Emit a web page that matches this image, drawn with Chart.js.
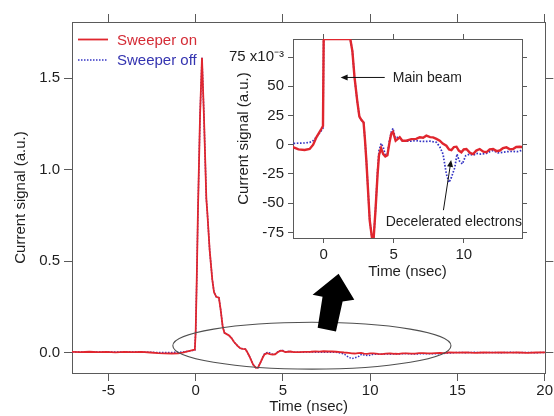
<!DOCTYPE html>
<html><head><meta charset="utf-8">
<script src="https://cdn.jsdelivr.net/npm/chart.js@4"></script>
<style>
html,body{margin:0;padding:0;background:#fff;}
#wrap{position:relative;width:554px;height:416px;overflow:hidden;}
#main{position:absolute;left:0;top:0;width:554px;height:416px;}
#inset{position:absolute;left:225px;top:26px;width:310px;height:260px;}
</style>
</head><body>
<div id="wrap"><canvas id="main" width="554" height="416"></canvas><canvas id="inset" width="310" height="260"></canvas></div>
<script>
// ---------- data (time in nsec, signal in a.u.) ----------
const timeOn = [
 -7.09,-6.6,-6.1,-5.6,-5.1,-4.6,-4.1,-3.6,-3.1,-2.6,
 -2.14,-1.8,-1.36,-1.0,-0.75,-0.52,-0.17,-0.05,0.0,0.06,
 0.13,0.25,0.36,0.47,0.61,0.67,0.8,0.95,1.05,1.18,
 1.33,1.43,1.55,1.65,1.8,1.9,2.05,2.2,2.4,2.55,
 2.7,2.85,2.95,3.05,3.29,3.45,3.57,3.71,3.85,3.95,
 4.1,4.25,4.4,4.55,4.7,4.83,4.95,5.14,5.3,5.43,
 5.62,5.9,6.26,6.6,6.86,7.1,7.33,7.6,7.81,8.05,
 8.29,8.5,8.76,8.95,9.12,9.3,9.48,9.65,9.83,10.0,
 10.19,10.45,10.67,10.9,11.14,11.4,11.62,11.85,12.1,12.35,
 12.57,12.8,13.05,13.3,13.52,13.75,14.0,14.2,14.5,15.0,
 15.5,16.0,16.5,17.0,17.5,18.0,18.5,19.0,19.5,20.04
];
const signalOn = [
 0.004,0.003,0.005,0.003,0.004,0.002,0.004,0.003,0.004,0.001,
 -0.0023,-0.0040,-0.0045,-0.0037,0.0000,0.0063,0.0134,0.0160,0.12,0.40,
 0.78,1.30,1.61,1.30,0.84,0.76,0.56,0.40,0.33,0.305,
 0.30,0.235,0.14,0.108,0.100,0.095,0.080,0.058,0.037,0.024,
 0.021,0.019,0.004,-0.014,-0.065,-0.083,-0.082,-0.054,-0.025,-0.009,
 -0.003,-0.008,-0.010,-0.009,0.002,0.0095,0.011,0.0034,0.0050,0.0063,
 0.0034,0.0034,0.0048,0.0050,0.0063,0.0060,0.0077,0.0065,0.0063,0.0050,
 0.0034,0.0010,-0.0009,-0.0040,-0.0046,-0.0020,-0.0017,-0.0050,-0.0065,-0.0040,
 -0.0037,-0.0070,-0.0080,-0.0050,-0.0037,-0.0060,-0.0065,-0.0040,-0.0037,-0.0055,
 -0.0050,-0.0030,-0.0023,-0.0040,-0.0037,-0.0020,-0.0017,-0.0020,0.001,0.000,
 0.002,-0.001,0.001,0.000,0.002,0.000,0.001,-0.001,0.001,0.002
];
const timeOff = [
 -7.09,-6.6,-6.1,-5.6,-5.1,-4.6,-4.1,-3.6,-3.1,-2.6,
 -2.14,-1.8,-1.36,-1.0,-0.75,-0.52,-0.17,-0.05,0.0,0.06,
 0.13,0.25,0.36,0.47,0.61,0.67,0.8,0.95,1.05,1.18,
 1.33,1.43,1.55,1.65,1.8,1.9,2.05,2.2,2.4,2.55,
 2.7,2.85,2.95,3.05,3.29,3.45,3.57,3.71,3.85,3.95,
 4.1,4.25,4.4,4.55,4.7,4.83,4.95,5.14,5.3,5.43,
 5.62,5.9,6.26,6.6,6.86,7.1,7.33,7.6,7.81,8.05,
 8.3,8.52,8.76,8.95,9.12,9.36,9.52,9.67,9.9,10.14,
 10.43,10.7,10.9,11.2,11.62,11.85,12.1,12.45,12.8,13.1,
 13.5,13.8,14.1,14.5,15.0,15.5,16.0,16.5,17.0,17.5,
 18.0,18.5,19.0,19.5,20.04
];
const signalOff = [
 0.003,0.004,0.003,0.004,0.003,0.004,0.003,0.004,0.003,0.002,
 0.0011,0.0013,0.0015,0.0020,0.0035,0.0065,0.0120,0.0140,0.12,0.40,
 0.78,1.30,1.61,1.30,0.84,0.76,0.56,0.40,0.33,0.305,
 0.30,0.235,0.14,0.108,0.100,0.095,0.080,0.058,0.037,0.024,
 0.021,0.019,0.004,-0.014,-0.065,-0.083,-0.082,-0.054,-0.022,-0.005,
 0.0011,-0.002,-0.009,-0.008,0.004,0.011,0.014,0.004,0.007,0.006,
 0.003,0.003,0.003,0.0035,0.003,0.0028,0.0028,0.003,0.0025,0.002,
 -0.002,-0.008,-0.025,-0.0323,-0.028,-0.0196,-0.008,-0.0136,-0.0165,-0.0094,
 -0.008,-0.009,-0.0074,-0.008,-0.0074,-0.006,-0.005,-0.007,-0.0065,-0.006,
 -0.0057,-0.006,-0.005,-0.002,0.001,0.000,0.002,0.000,0.001,0.000,
 0.002,0.000,0.001,0.000,0.001
];

// ---------- ticks ----------
const mainTimeTicks = [-5, 0, 5, 10, 15, 20];
const mainSignalTicks = [0, 0.5, 1.0, 1.5];
const insetTimeTicks = [0, 5, 10];
const insetSignalTicks = [-0.075, -0.05, -0.025, 0, 0.025, 0.05, 0.075];

// ---------- annotations (data units) ----------
const ellipseCenter = [6.66, 0.038];
const ellipseRadii = [7.97, 0.128];
const bigArrow = [[8.19,0.431],[9.09,0.289],[8.42,0.28],[8.04,0.116],[6.99,0.136],[7.27,0.306],[6.70,0.316]];
const mainBeamArrow = {from:[4.36,0.0575], to:[1.21,0.0575]};
const mainBeamLabel = {text:'Main beam', at:[4.93,0.0572]};
const decelArrow = {from:[8.55,-0.056], to:[9.1,-0.013]};
const decelLabel = {text:'Decelerated electrons', at:[4.43,-0.0665]};

const INSET_MIN = -0.0798, INSET_MAX = 0.0904;

const RED = '#e0262e', BLUE = '#3434c4', AXIS = '#5a5a5a', TXT = '#1e1e1e';
const FONT = "'Liberation Sans', Arial, Helvetica, sans-serif";
const pts = (xs, ys) => xs.map((t, i) => ({x: t, y: ys[i]}));
// the inset pins off-scale samples to its frame edge, like the original plot does
const ptsPinned = (xs, ys, lo, hi) => xs.map((t, i) => ({x: t, y: Math.min(hi, Math.max(lo, ys[i]))}));
const fixTicks = arr => s => { s.ticks = arr.map(v => ({value: v})); };

function axisSet(o) {
  return {
    type: 'linear', min: o.min, max: o.max,
    grid: {display: true, drawOnChartArea: false, drawTicks: true, tickLength: o.tick, color: AXIS, lineWidth: 1},
    border: {display: true, color: AXIS, width: 1},
    afterBuildTicks: fixTicks(o.ticks)
  };
}

Chart.defaults.font.family = FONT;
Chart.defaults.font.size = 15;

// ---------- main chart ----------
const mainExtras = {
  id: 'mainExtras',
  afterDatasetsDraw(chart) {
    const {ctx, scales: {x, y}, chartArea} = chart;
    ctx.save();
    const cx = x.getPixelForValue(ellipseCenter[0]), cy = y.getPixelForValue(ellipseCenter[1]);
    const rx = Math.abs(x.getPixelForValue(ellipseCenter[0] + ellipseRadii[0]) - cx);
    const ry = Math.abs(y.getPixelForValue(ellipseCenter[1] + ellipseRadii[1]) - cy);
    ctx.beginPath(); ctx.ellipse(cx, cy, rx, ry, 0, 0, Math.PI * 2);
    ctx.strokeStyle = '#505050'; ctx.lineWidth = 1.1; ctx.stroke();
    ctx.beginPath();
    bigArrow.forEach(([a, b], i) => { const px = x.getPixelForValue(a), py = y.getPixelForValue(b); i ? ctx.lineTo(px, py) : ctx.moveTo(px, py); });
    ctx.closePath(); ctx.fillStyle = '#000'; ctx.fill();
    // legend
    const legendColors = ['#d42c36', '#3434b0'];
    chart.data.datasets.forEach((ds, i) => {
      const ly = chartArea.top + 17.5 + i * 20.5;
      const lx = chartArea.left + 6;
      ctx.beginPath(); ctx.setLineDash(ds.borderDash || []);
      ctx.strokeStyle = ds.borderColor; ctx.lineWidth = ds.borderWidth;
      ctx.moveTo(lx, ly); ctx.lineTo(lx + 30, ly); ctx.stroke();
      ctx.setLineDash([]);
      ctx.font = '15px ' + FONT; ctx.fillStyle = legendColors[i];
      ctx.textBaseline = 'middle'; ctx.textAlign = 'left';
      ctx.fillText(ds.label, lx + 39, ly + 1);
    });
    ctx.restore();
  }
};

new Chart(document.getElementById('main'), {
  type: 'line',
  data: {datasets: [
    {label: 'Sweeper on', data: pts(timeOn, signalOn), xAxisID: 'x', yAxisID: 'y', borderColor: RED, borderWidth: 1.8, pointRadius: 0, tension: 0},
    {label: 'Sweeper off', data: pts(timeOff, signalOff), xAxisID: 'x', yAxisID: 'y', borderColor: BLUE, borderWidth: 1.5, borderDash: [1.5, 1.5], pointRadius: 0, tension: 0}
  ]},
  options: {
    responsive: false, animation: false, events: [],
    layout: {padding: {top: 14, right: 0, left: 0, bottom: 0}},
    plugins: {legend: {display: false}, tooltip: {enabled: false}},
    scales: {
      x: Object.assign(axisSet({min: -7.09, max: 20.04, ticks: mainTimeTicks, tick: 8}), {
        position: 'bottom',
        ticks: {color: TXT, padding: 1, font: {size: 15}, callback: v => String(v), maxRotation: 0, autoSkip: false},
        title: {display: true, text: 'Time (nsec)', color: TXT, font: {size: 15}, padding: {top: 0, bottom: 0}},
        afterFit: s => { s.height = 43; }
      }),
      y: Object.assign(axisSet({min: -0.111, max: 1.806, ticks: mainSignalTicks, tick: 8}), {
        position: 'left',
        ticks: {color: TXT, padding: 4, font: {size: 15}, callback: v => v.toFixed(1), autoSkip: false},
        title: {display: true, text: 'Current signal (a.u.)', color: TXT, font: {size: 15}, padding: {top: 12, bottom: 0}},
        afterFit: s => { s.width = 72; }
      }),
      x2: Object.assign(axisSet({min: -7.09, max: 20.04, ticks: mainTimeTicks, tick: 8}), {
        position: 'top', axis: 'x', ticks: {display: false}, afterFit: s => { s.height = 8; }
      }),
      y2: Object.assign(axisSet({min: -0.111, max: 1.806, ticks: mainSignalTicks, tick: 8}), {
        position: 'right', axis: 'y', ticks: {display: false}, afterFit: s => { s.width = 8; }
      })
    }
  },
  plugins: [mainExtras]
});

// ---------- inset chart ----------
function arrowTo(ctx, x1, y1, x2, y2) {
  const ang = Math.atan2(y2 - y1, x2 - x1), L = 7, W = 3;
  ctx.beginPath(); ctx.moveTo(x1, y1); ctx.lineTo(x2 - L * 0.6 * Math.cos(ang), y2 - L * 0.6 * Math.sin(ang)); ctx.stroke();
  ctx.beginPath(); ctx.moveTo(x2, y2);
  ctx.lineTo(x2 - L * Math.cos(ang) + W * Math.sin(ang), y2 - L * Math.sin(ang) - W * Math.cos(ang));
  ctx.lineTo(x2 - L * Math.cos(ang) - W * Math.sin(ang), y2 - L * Math.sin(ang) + W * Math.cos(ang));
  ctx.closePath(); ctx.fill();
}
const insetExtras = {
  id: 'insetExtras',
  afterDatasetsDraw(chart) {
    const {ctx, scales: {x, y}} = chart;
    const P = p => [x.getPixelForValue(p[0]), y.getPixelForValue(p[1])];
    ctx.save();
    ctx.strokeStyle = '#111'; ctx.fillStyle = '#111'; ctx.lineWidth = 1;
    let a = P(mainBeamArrow.from), b = P(mainBeamArrow.to);
    arrowTo(ctx, a[0], a[1], b[0], b[1]);
    a = P(decelArrow.from); b = P(decelArrow.to);
    arrowTo(ctx, a[0], a[1], b[0], b[1]);
    ctx.font = '14px ' + FONT; ctx.fillStyle = TXT; ctx.textBaseline = 'middle'; ctx.textAlign = 'left';
    let t = P(mainBeamLabel.at); ctx.fillText(mainBeamLabel.text, t[0], t[1]);
    t = P(decelLabel.at); ctx.fillText(decelLabel.text, t[0], t[1]);
    ctx.restore();
  }
};

new Chart(document.getElementById('inset'), {
  type: 'line',
  data: {datasets: [
    {label: 'Sweeper on', data: ptsPinned(timeOn, signalOn, INSET_MIN, INSET_MAX), xAxisID: 'x', yAxisID: 'y', borderColor: RED, borderWidth: 2.4, pointRadius: 0, tension: 0},
    {label: 'Sweeper off', data: ptsPinned(timeOff, signalOff, INSET_MIN, INSET_MAX), xAxisID: 'x', yAxisID: 'y', borderColor: BLUE, borderWidth: 1.7, borderDash: [1.6, 1.6], pointRadius: 0, tension: 0}
  ]},
  options: {
    responsive: false, animation: false, events: [],
    layout: {padding: {top: 7, right: 8, left: 0, bottom: 0}},
    plugins: {legend: {display: false}, tooltip: {enabled: false}},
    scales: {
      x: Object.assign(axisSet({min: -2.19, max: 14.16, ticks: insetTimeTicks, tick: 5}), {
        position: 'bottom',
        ticks: {color: TXT, padding: 3, font: {size: 15}, callback: v => String(v), maxRotation: 0, autoSkip: false},
        title: {display: true, text: 'Time (nsec)', color: TXT, font: {size: 15}, padding: {top: 0, bottom: 5}},
        afterFit: s => { s.height = 48; }
      }),
      y: Object.assign(axisSet({min: INSET_MIN, max: INSET_MAX, ticks: insetSignalTicks, tick: 5}), {
        position: 'left',
        ticks: {color: TXT, padding: 4, font: {size: 15}, autoSkip: false,
          callback: v => { const n = Math.round(v * 1000); return n === 75 ? '75 x10\u207B\u00B3' : String(n); }},
        title: {display: true, text: 'Current signal (a.u.)', color: TXT, font: {size: 15}, padding: {top: 10, bottom: 0}},
        afterFit: s => { s.width = 68; }
      }),
      x2: Object.assign(axisSet({min: -2.19, max: 14.16, ticks: insetTimeTicks, tick: 5}), {
        position: 'top', axis: 'x', ticks: {display: false}, afterFit: s => { s.height = 5; }
      }),
      y2: Object.assign(axisSet({min: INSET_MIN, max: INSET_MAX, ticks: insetSignalTicks, tick: 5}), {
        position: 'right', axis: 'y', ticks: {display: false}, afterFit: s => { s.width = 5; }
      })
    }
  },
  plugins: [insetExtras]
});
</script>
</body></html>
